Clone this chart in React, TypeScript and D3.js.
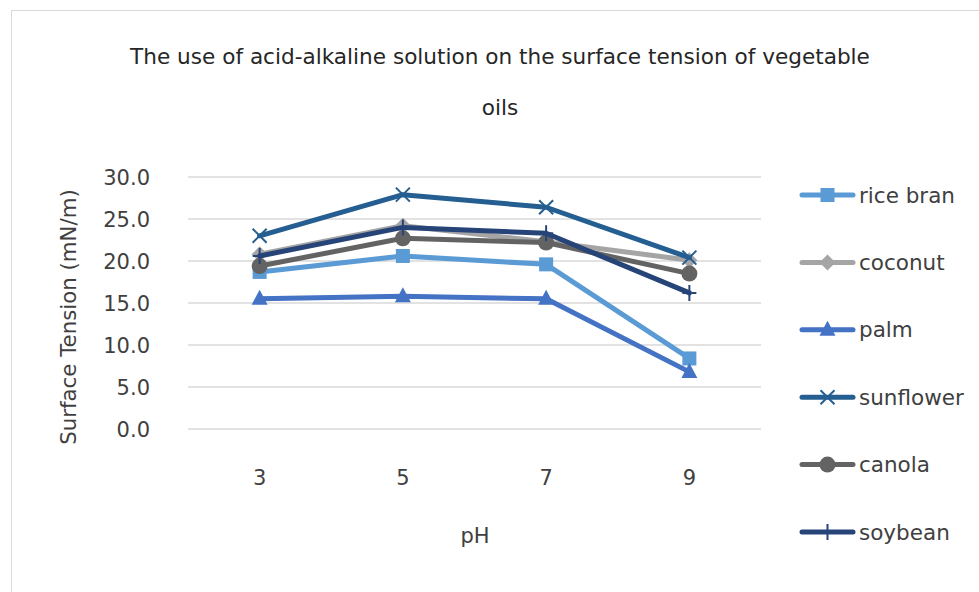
import React from 'react';
import * as d3 from 'd3';

const phLevels = ['3', '5', '7', '9'];
const riceBran = [18.7, 20.6, 19.6, 8.4];
const coconut = [20.8, 24.2, 22.3, 20.1];
const palm = [15.5, 15.8, 15.5, 6.8];
const sunflower = [23.0, 27.9, 26.4, 20.4];
const canola = [19.4, 22.7, 22.2, 18.5];
const soybean = [20.6, 24.0, 23.3, 16.2];
const yTicks = [0, 5, 10, 15, 20, 25, 30];

type Marker = 'square' | 'diamond' | 'triangle' | 'x' | 'circle' | 'plus';

const series: { name: string; values: number[]; color: string; marker: Marker }[] = [
  { name: 'rice bran', values: riceBran, color: '#5b9bd5', marker: 'square' },
  { name: 'coconut', values: coconut, color: '#a5a5a5', marker: 'diamond' },
  { name: 'palm', values: palm, color: '#4472c4', marker: 'triangle' },
  { name: 'sunflower', values: sunflower, color: '#255e91', marker: 'x' },
  { name: 'canola', values: canola, color: '#636363', marker: 'circle' },
  { name: 'soybean', values: soybean, color: '#264478', marker: 'plus' },
];

const W = 979;
const H = 592;
const font = '"DejaVu Sans", "Liberation Sans", Arial, sans-serif';
const textColor = '#404040';

const plot = { left: 188, right: 761, top: 177, bottom: 429 };

const MarkerShape: React.FC<{ type: Marker; cx: number; cy: number; color: string }> = ({ type, cx, cy, color }) => {
  switch (type) {
    case 'square':
      return <rect x={cx - 7} y={cy - 7} width={14} height={14} fill={color} />;
    case 'diamond':
      return <path d={`M${cx},${cy - 8}L${cx + 8},${cy}L${cx},${cy + 8}L${cx - 8},${cy}Z`} fill={color} />;
    case 'triangle':
      return <path d={`M${cx},${cy - 9}L${cx + 8},${cy + 6}L${cx - 8},${cy + 6}Z`} fill={color} />;
    case 'x':
      return (
        <path d={`M${cx - 7},${cy - 7}L${cx + 7},${cy + 7}M${cx - 7},${cy + 7}L${cx + 7},${cy - 7}`}
          stroke={color} strokeWidth={2} fill="none" />
      );
    case 'circle':
      return <circle cx={cx} cy={cy} r={8} fill={color} />;
    case 'plus':
      return (
        <path d={`M${cx - 7},${cy}L${cx + 7},${cy}M${cx},${cy - 8}L${cx},${cy + 8}`}
          stroke={color} strokeWidth={2} fill="none" />
      );
  }
  return null;
};

export default function App() {
  const x = d3.scaleBand<string>().domain(phLevels).range([plot.left, plot.right]);
  const y = d3.scaleLinear().domain([0, 30]).range([plot.bottom, plot.top]);
  const cx = (d: string) => (x(d) || 0) + x.bandwidth() / 2;

  const line = d3.line<number>()
    .x((_, i) => cx(phLevels[i]))
    .y(v => y(v));

  return (
    <div style={{ position: 'absolute', left: 0, top: 0 }}>
      <svg width={W} height={H} style={{ display: 'block', fontFamily: font }}>
        <rect x={0} y={0} width={W} height={H} fill="#fff" />
        <rect x={11.5} y={10.5} width={W} height={H} fill="#fff" stroke="#d9d9d9" strokeWidth={1} />

        <text x={500} y={64} textAnchor="middle" fontSize={21.6} fill="#262626">
          The use of acid-alkaline solution on the surface tension of vegetable
        </text>
        <text x={500} y={115} textAnchor="middle" fontSize={21.6} fill="#262626">oils</text>

        {/* grid + y ticks */}
        {yTicks.map(t => (
          <g key={t}>
            <line x1={plot.left} x2={plot.right} y1={y(t)} y2={y(t)} stroke="#d9d9d9" strokeWidth={1.5} />
            <text x={150} y={y(t) + 7.5} textAnchor="end" fontSize={21} fill={textColor}>{t.toFixed(1)}</text>
          </g>
        ))}

        {phLevels.map(p => (
          <text key={p} x={cx(p)} y={485} textAnchor="middle" fontSize={21} fill={textColor}>{p}</text>
        ))}

        <text x={475} y={543} textAnchor="middle" fontSize={21} fill={textColor}>pH</text>
        <text transform={`translate(76, ${317}) rotate(-90)`} textAnchor="middle" fontSize={21.3} fill={textColor}>
          Surface Tension (mN/m)
        </text>

        {series.map(s => (
          <g key={s.name}>
            <path d={line(s.values) || ''} fill="none" stroke={s.color} strokeWidth={5} strokeLinejoin="round" strokeLinecap="round" />
            {s.values.map((v, i) => (
              <MarkerShape key={i} type={s.marker} cx={cx(phLevels[i])} cy={y(v)} color={s.color} />
            ))}
          </g>
        ))}

        {/* legend */}
        {series.map((s, i) => {
          const ly = 195 + i * 67.4;
          return (
            <g key={s.name}>
              <line x1={802} x2={853} y1={ly} y2={ly} stroke={s.color} strokeWidth={5} strokeLinecap="round" />
              <MarkerShape type={s.marker} cx={827.5} cy={ly} color={s.color} />
              <text x={859} y={ly + 7.5} fontSize={21.5} fill={textColor}>{s.name}</text>
            </g>
          );
        })}
      </svg>
    </div>
  );
}
